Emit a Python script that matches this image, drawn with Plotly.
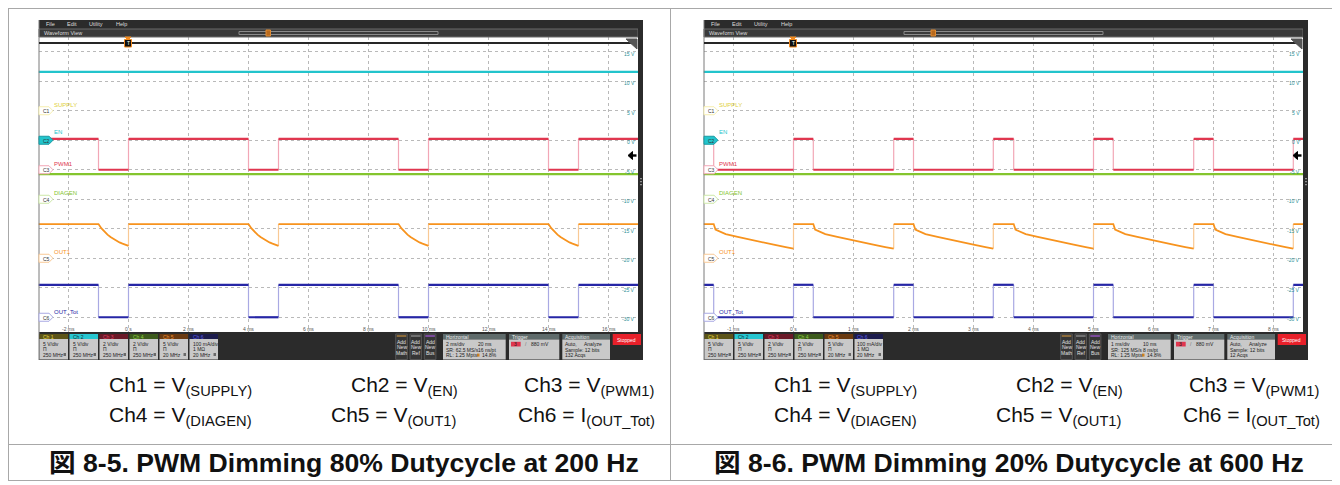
import plotly.graph_objects as go

# page is 1340x485, the html body adds an 8px margin; the figure is sized to fit inside
PAGE_W, PAGE_H = 1340, 485
OFF = 8
W, H = PAGE_W - OFF, PAGE_H - OFF

# ---------------- data ----------------
TIME_TICKS_L = [-2, 0, 2, 4, 6, 8, 10, 12, 14, 16]
TIME_LABELS_L = ["-2 ms", "0 s", "2 ms", "4 ms", "6 ms", "8 ms", "10 ms", "12 ms", "14 ms", "16 ms"]
TIME_TICKS_R = [-1, 0, 1, 2, 3, 4, 5, 6, 7, 8]
TIME_LABELS_R = ["-1 ms", "0 s", "1 ms", "2 ms", "3 ms", "4 ms", "5 ms", "6 ms", "7 ms", "8 ms"]
VOLT_LABELS = ["15 V", "10 V", "5 V", "0 V", "-5 V", "-10 V", "-15 V", "-20 V", "-25 V", "-30 V"]

# PWM edges (ms)
PWM_FALL_L = [-1, 4, 9, 14]
PWM_RISE_L = [0, 5, 10, 15]
PWM_FALL_R = [-1.33, 0.33, 2.0, 3.67, 5.33, 7.0]
PWM_RISE_R = [0, 1.67, 3.33, 5.0, 6.67, 8.33]

EN_V = 11.6
PWM_HIGH_V = 2.1
DIAGEN_V = 1.7
OUT1_HIGH_V = 5.8
OUT_TOT_HIGH_MA = 110

# OUT1 decay after each PWM falling edge (time after edge in ms, volts)
OUT1_DECAY_L_T = [0.0, 0.1, 0.2, 0.3, 0.4, 0.5, 0.6, 0.7, 0.8, 0.9, 1.0]
OUT1_DECAY_L_V = [5.8, 5.05, 4.45, 4.0, 3.6, 3.25, 2.93, 2.68, 2.47, 2.27, 2.1]
OUT1_DECAY_R_T = [0.0, 0.03, 0.2, 0.4, 0.6, 0.8, 1.0, 1.2, 1.33]
OUT1_DECAY_R_V = [5.8, 4.85, 4.1, 3.62, 3.15, 2.7, 2.3, 1.9, 1.65]

CH_NAMES = ["SUPPLY", "EN", "PWM1", "DIAGEN", "OUT1", "OUT_Tot"]
CH_SCALE = [5, 5, 2, 2, 5, 100]            # per division
CH_OFFSET = [7.5, 6.5, 5.5, 4.5, 2.5, 0.5]  # ground marker, divisions from bottom
CH_BADGE = [["5 V/div", "Π", "250 MHz"], ["5 V/div", "Π", "250 MHz"],
            ["2 V/div", "Π", "250 MHz"], ["2 V/div", "Π", "250 MHz"],
            ["5 V/div", "Π", "20 MHz"], ["100 mA/div", "1 MΩ", "20 MHz"]]

CAPTION_L = "図 8-5. PWM Dimming 80% Dutycycle at 200 Hz"
CAPTION_R = "図 8-6. PWM Dimming 20% Dutycycle at 600 Hz"
HORIZ_L = [["2 ms/div", "SR: 62.5 MS/s", "RL: 1.25 Mpts"], ["20 ms", "16 ns/pt", "14.8%"]]
HORIZ_R = [["1 ms/div", "SR: 125 MS/s", "RL: 1.25 Mpts"], ["10 ms", "8 ns/pt", "14.8%"]]
ACQS_L = "132 Acqs"
ACQS_R = "12 Acqs"

# ---------------- styling ----------------
CH_COLOR = ["#e0cf3a", "#22c4cc", "#e0364f", "#84c52e", "#f7931e", "#2626a6"]
CH_PALE = ["#f6efb0", "#a6e6ea", "#f2a7b6", "#cde8a8", "#f9c995", "#a9a9e3"]
HDR_BG = ["#5c5418", "#26c6d0", "#6a1a28", "#3c5a1c", "#6a3a10", "#1c1c4c"]
HDR_FG = ["#e8d840", "#123338", "#e04060", "#90d040", "#f09030", "#5a5ae0"]
SCOPE_FONT = "Liberation Sans, Arial, sans-serif"
TXT_FONT = "Liberation Sans, Arial, Noto Sans CJK JP, sans-serif"

PLOT_TOP, PLOT_BOT = 37, 332
DIV_PX = (PLOT_BOT - PLOT_TOP) / 10.0
DX = 665  # horizontal shift of the right panel


def px(x):
    return (x - OFF) / W


def py(y):
    return 1 - (y - OFF) / H


def div_y(d):
    return PLOT_BOT - d * DIV_PX


def to_div(v, ch):
    return CH_OFFSET[ch] + v / CH_SCALE[ch]


shapes, annos = [], []


def rect(x0, y0, x1, y1, fill, line=None, lw=1):
    shapes.append(dict(type="rect", xref="paper", yref="paper",
                       x0=px(x0), x1=px(x1), y0=py(y1), y1=py(y0),
                       fillcolor=fill, line=dict(color=line or fill, width=lw if line else 0),
                       layer="above"))


def hline(x0, x1, y, color, width=1):
    shapes.append(dict(type="line", xref="paper", yref="paper",
                       x0=px(x0), x1=px(x1), y0=py(y), y1=py(y),
                       line=dict(color=color, width=width), layer="above"))


def vline(x, y0, y1, color, width=1):
    shapes.append(dict(type="line", xref="paper", yref="paper",
                       x0=px(x), x1=px(x), y0=py(y0), y1=py(y1),
                       line=dict(color=color, width=width), layer="above"))


def poly(pts, fill, line=None):
    path = "M " + " L ".join(f"{px(x):.5f},{py(y):.5f}" for x, y in pts) + " Z"
    shapes.append(dict(type="path", xref="paper", yref="paper", path=path,
                       fillcolor=fill, line=dict(color=line or fill, width=1), layer="above"))


def txt(x, y, s, size=5, color="#222", xanchor="left", family=SCOPE_FONT):
    annos.append(dict(x=px(x), y=py(y), xref="paper", yref="paper", text=s,
                      showarrow=False, xanchor=xanchor, yanchor="middle",
                      font=dict(size=size, color=color, family=family), borderpad=0))


def square(fall, rise, t0, t1, low, high):
    events = sorted([(t, low) for t in fall] + [(t, high) for t in rise])
    level = high if events[0][1] == low else low
    seg_x, seg_y, ed_x, ed_y = [t0], [level], [], []
    for t, new in events:
        seg_x += [t, None, t]
        seg_y += [level, None, new]
        ed_x += [t, t, None]
        ed_y += [level, new, None]
        level = new
    seg_x.append(t1)
    seg_y.append(level)
    return seg_x, seg_y, ed_x, ed_y


def out1_wave(fall, rise, t0, t1, high, dec_t, dec_v):
    events = sorted([(t, "f") for t in fall] + [(t, "r") for t in rise])
    seg_x, seg_y, ed_x, ed_y = [t0], [high], [], []
    for i, (t, kind) in enumerate(events):
        if kind == "f":
            nxt = events[i + 1][0] if i + 1 < len(events) else t1
            for dt, v in zip(dec_t, dec_v):
                if t + dt <= min(nxt, t1) + 1e-9:
                    seg_x.append(t + dt)
                    seg_y.append(v)
        else:
            last = seg_y[-1]
            seg_x += [t, None, t]
            seg_y += [last, None, high]
            ed_x += [t, t, None]
            ed_y += [last, high, None]
    seg_x.append(t1)
    seg_y.append(seg_y[-1])
    return seg_x, seg_y, ed_x, ed_y


PANELS = [
    dict(dx=0, xa="x", ya="y", win=[-3, 17], fall=PWM_FALL_L, rise=PWM_RISE_L,
         dt=OUT1_DECAY_L_T, dv=OUT1_DECAY_L_V, ticks=TIME_TICKS_L, labels=TIME_LABELS_L,
         horiz=HORIZ_L, acqs=ACQS_L, caption=CAPTION_L),
    dict(dx=DX, xa="x2", ya="y2", win=[-1.5, 8.5], fall=PWM_FALL_R, rise=PWM_RISE_R,
         dt=OUT1_DECAY_R_T, dv=OUT1_DECAY_R_V, ticks=TIME_TICKS_R, labels=TIME_LABELS_R,
         horiz=HORIZ_R, acqs=ACQS_R, caption=CAPTION_R),
]

fig = go.Figure()
lay = dict()

for k, p in enumerate(PANELS):
    dx = p["dx"]
    t0, t1 = p["win"]
    suffix = "" if k == 0 else "2"
    lay["xaxis" + suffix] = dict(domain=[px(38.5 + dx), px(638.5 + dx)], range=p["win"],
                                 anchor=p["ya"], tickvals=p["ticks"], showticklabels=False,
                                 showgrid=True, gridcolor="#b9b9b9", griddash="dot", gridwidth=1,
                                 zeroline=False, showline=False, ticks="", fixedrange=True)
    lay["yaxis" + suffix] = dict(domain=[py(PLOT_BOT), py(PLOT_TOP)], range=[0, 10],
                                 anchor=p["xa"], tickvals=[i + 0.5 for i in range(10)],
                                 showticklabels=False, showgrid=True, gridcolor="#b9b9b9",
                                 griddash="dot", gridwidth=1, zeroline=False, showline=False,
                                 ticks="", fixedrange=True)

    def add(xs, ys, ch, color, width):
        fig.add_trace(go.Scatter(x=xs, y=[None if v is None else to_div(v, ch) for v in ys],
                                 mode="lines", line=dict(color=color, width=width),
                                 xaxis=p["xa"], yaxis=p["ya"], showlegend=False,
                                 hoverinfo="skip", connectgaps=False))

    # EN and DIAGEN are flat
    add([t0, t1], [EN_V, EN_V], 1, CH_COLOR[1], 2.2)
    # PWM1
    sx, sy, ex, ey = square(p["fall"], p["rise"], t0, t1, 0, PWM_HIGH_V)
    add(ex, ey, 2, CH_PALE[2], 1.2)
    add(sx, sy, 2, CH_COLOR[2], 2.2)
    add([t0, t1], [DIAGEN_V, DIAGEN_V], 3, CH_COLOR[3], 2.2)
    # OUT1
    sx, sy, ex, ey = out1_wave(p["fall"], p["rise"], t0, t1, OUT1_HIGH_V, p["dt"], p["dv"])
    add(ex, ey, 4, CH_PALE[4], 1.2)
    add(sx, sy, 4, CH_COLOR[4], 1.8)
    # OUT_Tot
    sx, sy, ex, ey = square(p["fall"], p["rise"], t0, t1, 0, OUT_TOT_HIGH_MA)
    add(ex, ey, 5, CH_PALE[5], 1.2)
    add(sx, sy, 5, CH_COLOR[5], 2.2)

    # time labels
    for tv, tl in zip(p["ticks"], p["labels"]):
        annos.append(dict(x=tv, y=py(329), xref=p["xa"], yref="paper", text=tl,
                          showarrow=False, xanchor="center", yanchor="middle",
                          font=dict(size=5, color="#555", family=SCOPE_FONT)))
    # volt labels on the right edge
    for i, vl in enumerate(VOLT_LABELS):
        txt(636 + dx, div_y(9.5 - i) + 2, vl, 5, "#2a8f96", "right")

    # --- scope frame ---
    rect(39 + dx, 20, 643 + dx, 29, "#2b2b2b")
    rect(39 + dx, 29, 638 + dx, 37, "#3a3a3a", "#6a6a6a", 1)
    rect(638 + dx, 20, 643 + dx, 360, "#2b2b2b")
    rect(39 + dx, 332, 643 + dx, 360, "#2b2b2b")
    vline(39 + dx, 20, 360, "#7a7a7a", 1)
    for xm, s in [(45, "File"), (66, "Edit"), (88, "Utility"), (115, "Help")]:
        txt(xm + dx, 24.5, s, 5.5, "#dddddd")
    txt(43 + dx, 33, "Waveform View", 5.5, "#dddddd")
    rect(239 + dx, 31.5, 438 + dx, 34.5, "rgba(0,0,0,0)", "#8a8a8a", 1)
    rect(266 + dx, 30, 270.5 + dx, 36, "#b86a1e", "#e08a30", 1)

    # record bar with trigger marker
    hline(39 + dx, 632 + dx, 43, "#262626", 2)
    poly([(125 + dx, 37), (131 + dx, 37), (128 + dx, 40)], "#f08a20")
    rect(124.5 + dx, 39.5, 131.5 + dx, 47, "#111111", "#f08a20", 1)
    txt(128 + dx, 43.3, "T", 5, "#ffffff", "center")
    poly([(626 + dx, 39), (637 + dx, 39), (637 + dx, 49)], "#555555")
    # trigger level arrow
    poly([(628 + dx, 155.5), (632.5 + dx, 151.5), (632.5 + dx, 159.5)], "#000000")
    rect(632 + dx, 154.3, 636.5 + dx, 156.7, "#000000")
    # scroll handle dots
    for yd in (178, 181, 184):
        rect(640.3 + dx, yd, 641.7 + dx, yd + 1.2, "#bbbbbb")

    # channel ground markers and names
    name_dy = [-6, -8, -6, -6, -6, -5]
    for c in range(6):
        yc = div_y(CH_OFFSET[c])
        fill = CH_COLOR[1] if c == 1 else "#ffffff"
        poly([(39 + dx, yc - 4), (49 + dx, yc - 4), (53 + dx, yc), (49 + dx, yc + 4), (39 + dx, yc + 4)],
             fill, CH_PALE[c] if c != 1 else "#1a9aa2")
        txt(41.5 + dx, yc + 0.5, f"C{c + 1}", 5, "#333")
        txt(53 + dx, yc + name_dy[c], CH_NAMES[c], 6, CH_COLOR[c])

    # --- bottom badges ---
    for c in range(6):
        x0 = 39.5 + 30 * c + dx
        rect(x0, 334, x0 + 28.5, 339, HDR_BG[c])
        rect(x0, 339, x0 + 28.5, 359.5, "#c9c9c9")
        txt(x0 + 2, 336.6, f"Ch {c + 1}", 5, HDR_FG[c])
        for j, line in enumerate(CH_BADGE[c]):
            txt(x0 + 2, 344 + 5.4 * j, line, 5, "#222")
        rect(x0 + 24, 353, x0 + 26.5, 356, "#6a6a6a")
    for j, (xa, strip, nm) in enumerate([(395.7, "#8a6a3a", "Math"), (410, "#707070", "Ref"),
                                         (424.3, "#7a4a9a", "Bus")]):
        rect(xa + dx, 334, xa + 11.6 + dx, 359.5, "#363636", "#555555", 1)
        rect(xa + 1 + dx, 335, xa + 10.6 + dx, 337, strip)
        for i, s in enumerate(["Add", "New", nm]):
            txt(xa + 5.8 + dx, 342 + 5.3 * i, s, 5, "#e0e0e0", "center")
    # horizontal
    rect(443 + dx, 334, 505.7 + dx, 339.5, "#5f6b6b")
    rect(443 + dx, 339.5, 505.7 + dx, 359.5, "#c9c9c9")
    txt(445 + dx, 336.7, "Horizontal", 5, "#eeeeee")
    for i in range(3):
        txt(445 + dx, 344.3 + 5.5 * i, p["horiz"][0][i], 5, "#222")
        txt(476.7 + dx if i < 2 else 480.5 + dx, 344.3 + 5.5 * i, p["horiz"][1][i], 5, "#222")
    rect(477 + dx, 353.6, 479.5 + dx, 356.6, "#d08020")
    # trigger
    rect(509 + dx, 334, 559.3 + dx, 339.5, "#5f6b6b")
    rect(509 + dx, 339.5, 559.3 + dx, 359.5, "#c9c9c9")
    txt(511 + dx, 336.7, "Trigger", 5, "#eeeeee")
    rect(511 + dx, 341.8, 520.7 + dx, 346.5, "#e0364f")
    txt(515.8 + dx, 344.2, "3", 5, "#222", "center")
    txt(523.5 + dx, 344.2, "/", 5, "#777")
    txt(530 + dx, 344.2, "880 mV", 5, "#222")
    # acquisition
    rect(562.3 + dx, 334, 610 + dx, 339.5, "#5f6b6b")
    rect(562.3 + dx, 339.5, 610 + dx, 359.5, "#c9c9c9")
    txt(564.3 + dx, 336.7, "Acquisition", 5, "#eeeeee")
    txt(564.3 + dx, 344.3, "Auto,", 5, "#222")
    txt(583.3 + dx, 344.3, "Analyze", 5, "#222")
    txt(564.3 + dx, 349.8, "Sample: 12 bits", 5, "#222")
    txt(564.3 + dx, 355.3, p["acqs"], 5, "#222")
    # stopped
    rect(612.7 + dx, 334, 641 + dx, 345, "#e8202a")
    txt(626.8 + dx, 339.5, "Stopped", 5, "#ffffff", "center")

    # --- channel legend text below the screenshot ---
    legend_rows = [
        [(108, "Ch1 = V<sub>(SUPPLY)</sub>"), (350, "Ch2 = V<sub>(EN)</sub>"), (523, "Ch3 = V<sub>(PWM1)</sub>")],
        [(108, "Ch4 = V<sub>(DIAGEN)</sub>"), (330, "Ch5 = V<sub>(OUT1)</sub>"), (517, "Ch6 = I<sub>(OUT_Tot)</sub>")],
    ]
    for r, row in enumerate(legend_rows):
        for xl, s in row:
            txt(xl + dx, 386 + 30 * r, s, 21, "#111", "left", TXT_FONT)
    txt(343.5 + dx, 463, "<b>" + p["caption"] + "</b>", 26.6, "#111", "center", TXT_FONT)

# outer frame of the two figure panels
BORDER = "#a8a8a8"
hline(8, 1335, 8.5, BORDER)
hline(8, 1335, 444.5, BORDER)
hline(8, 1335, 480.5, BORDER)
vline(8.5, 8, 481, BORDER)
vline(670.5, 8, 481, BORDER)
vline(1334.5, 8, 481, BORDER)

fig.update_layout(
    width=W, height=H, autosize=False,
    margin=dict(l=0, r=0, t=0, b=0),
    paper_bgcolor="white", plot_bgcolor="white",
    shapes=shapes, annotations=annos, showlegend=False,
    **lay,
)

fig.write_html("out.html")
